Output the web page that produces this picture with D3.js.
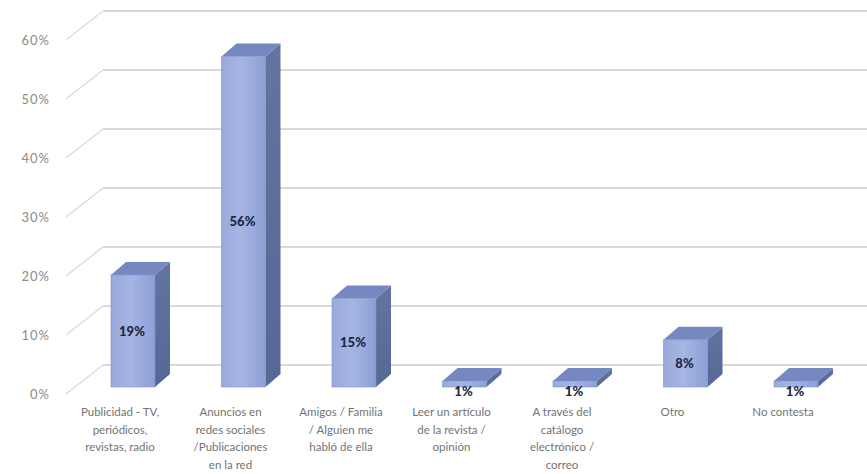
<!DOCTYPE html>
<html>
<head>
<meta charset="utf-8">
<script src="https://cdn.jsdelivr.net/npm/d3@7"></script>
<style>
  html, body { margin: 0; padding: 0; background: #ffffff; }
  svg { display: block; }
</style>
</head>
<body>
<svg id="chart" width="867" height="474"></svg>
<script>
// ---- Data ----
const categories = [
  "Publicidad - TV, periódicos, revistas, radio",
  "Anuncios en redes sociales /Publicaciones en la red",
  "Amigos / Familia / Alguien me habló de ella",
  "Leer un artículo de la revista / opinión",
  "A través del catálogo electrónico / correo",
  "Otro",
  "No contesta"
];
const categoryLines = [
  ["Publicidad - TV,", "periódicos,", "revistas, radio"],
  ["Anuncios en", "redes sociales", "/Publicaciones", "en la red"],
  ["Amigos / Familia", "/ Alguien me", "habló de ella"],
  ["Leer un artículo", "de la revista /", "opinión"],
  ["A través del", "catálogo", "electrónico /", "correo"],
  ["Otro"],
  ["No contesta"]
];
const values = [0.19, 0.56, 0.15, 0.01, 0.01, 0.08, 0.01];
const valueLabels = ["19%", "56%", "15%", "1%", "1%", "8%", "1%"];
const yTicks = [0, 0.1, 0.2, 0.3, 0.4, 0.5, 0.6];

// ---- Layout ----
const svg = d3.select("#chart");
const W = 867;
const x = d3.scalePoint().domain(categories).range([120, 783]);
const y = d3.scaleLinear().domain([0, 0.6]).range([394, 40]);
const wallDX = 37, wallDY = -29;     // floor depth to back wall
const barOffX = 13, barOffY = -7;    // bar front plane relative to axis front plane
const barW = 44;
const depthX = 15, depthY = -13;     // bar depth

const defs = svg.append("defs");
const gFront = defs.append("linearGradient").attr("id", "gFront")
  .attr("x1", "0").attr("x2", "1").attr("y1", "0").attr("y2", "0");
gFront.append("stop").attr("offset", "0").attr("stop-color", "#98a9dc");
gFront.append("stop").attr("offset", "0.45").attr("stop-color", "#a5b5e4");
gFront.append("stop").attr("offset", "1").attr("stop-color", "#8d9fd5");
const gSide = defs.append("linearGradient").attr("id", "gSide")
  .attr("x1", "0").attr("x2", "0").attr("y1", "0").attr("y2", "1");
gSide.append("stop").attr("offset", "0").attr("stop-color", "#62749f");
gSide.append("stop").attr("offset", "1").attr("stop-color", "#556896");

// ---- Gridlines on back wall + diagonal side-wall lines ----
const grid = svg.append("g");
yTicks.forEach(t => {
  grid.append("line")
    .attr("x1", 66 + wallDX).attr("x2", W)
    .attr("y1", y(t) + wallDY).attr("y2", y(t) + wallDY)
    .attr("stroke", "#d9d9d9").attr("stroke-width", 1.8);
  grid.append("line")
    .attr("x1", 66).attr("y1", y(t))
    .attr("x2", 66 + wallDX).attr("y2", y(t) + wallDY)
    .attr("stroke", "#dcdcdc").attr("stroke-width", 1.4);
});

// ---- Y axis labels ----
svg.append("g").selectAll("text").data(yTicks).join("text")
  .attr("x", 50).attr("y", d => y(d)).attr("dy", "0.35em")
  .attr("text-anchor", "end")
  .attr("font-family", "Lato, 'Open Sans', sans-serif")
  .attr("font-size", 13).attr("letter-spacing", 1)
  .attr("fill", "#8c8c8c")
  .text(d => d3.format(".0%")(d));

// ---- Bars ----
const bars = svg.append("g").selectAll("g").data(categories).join("g");
function geom(c, i) {
  const fx0 = x(c) + barOffX - barW / 2;
  const fx1 = fx0 + barW;
  const ft = y(values[i]) + barOffY;
  const fb = y(0) + barOffY;
  return {fx0, fx1, ft, fb};
}
bars.append("polygon")
  .attr("points", (c, i) => {
    const g = geom(c, i);
    return [[g.fx1, g.ft], [g.fx1 + depthX, g.ft + depthY], [g.fx1 + depthX, g.fb + depthY], [g.fx1, g.fb]].join(" ");
  })
  .attr("fill", "url(#gSide)");
bars.append("polygon")
  .attr("points", (c, i) => {
    const g = geom(c, i);
    return [[g.fx0, g.ft], [g.fx1, g.ft], [g.fx1 + depthX, g.ft + depthY], [g.fx0 + depthX, g.ft + depthY]].join(" ");
  })
  .attr("fill", "#7588c0");
bars.append("rect")
  .attr("x", (c, i) => geom(c, i).fx0)
  .attr("y", (c, i) => geom(c, i).ft)
  .attr("width", barW)
  .attr("height", (c, i) => { const g = geom(c, i); return g.fb - g.ft; })
  .attr("fill", "url(#gFront)")
  .attr("stroke", "#7f92c8").attr("stroke-width", 0.6);

// ---- Value labels ----
bars.append("text")
  .attr("x", (c, i) => (geom(c, i).fx0 + geom(c, i).fx1) / 2 - 1)
  .attr("y", (c, i) => {
    const g = geom(c, i);
    return (g.fb - g.ft) < 20 ? g.fb + 4 : (g.ft + g.fb) / 2;
  })
  .attr("dy", "0.35em")
  .attr("text-anchor", "middle")
  .attr("font-family", "Lato, 'Open Sans', sans-serif")
  .attr("font-weight", "900")
  .attr("font-size", 13)
  .attr("fill", "#1c2740")
  .text((c, i) => valueLabels[i]);

// ---- Category labels ----
const cat = svg.append("g").selectAll("text").data(categories).join("text")
  .attr("text-anchor", "middle")
  .attr("font-family", "Lato, 'Open Sans', sans-serif")
  .attr("font-size", 11.5)
  .attr("fill", "#737373");
cat.each(function(c, i) {
  const t = d3.select(this);
  categoryLines[i].forEach((ln, k) => {
    t.append("tspan").attr("x", x(c)).attr("y", 416 + k * 17.5).text(ln);
  });
});
</script>
</body>
</html>
